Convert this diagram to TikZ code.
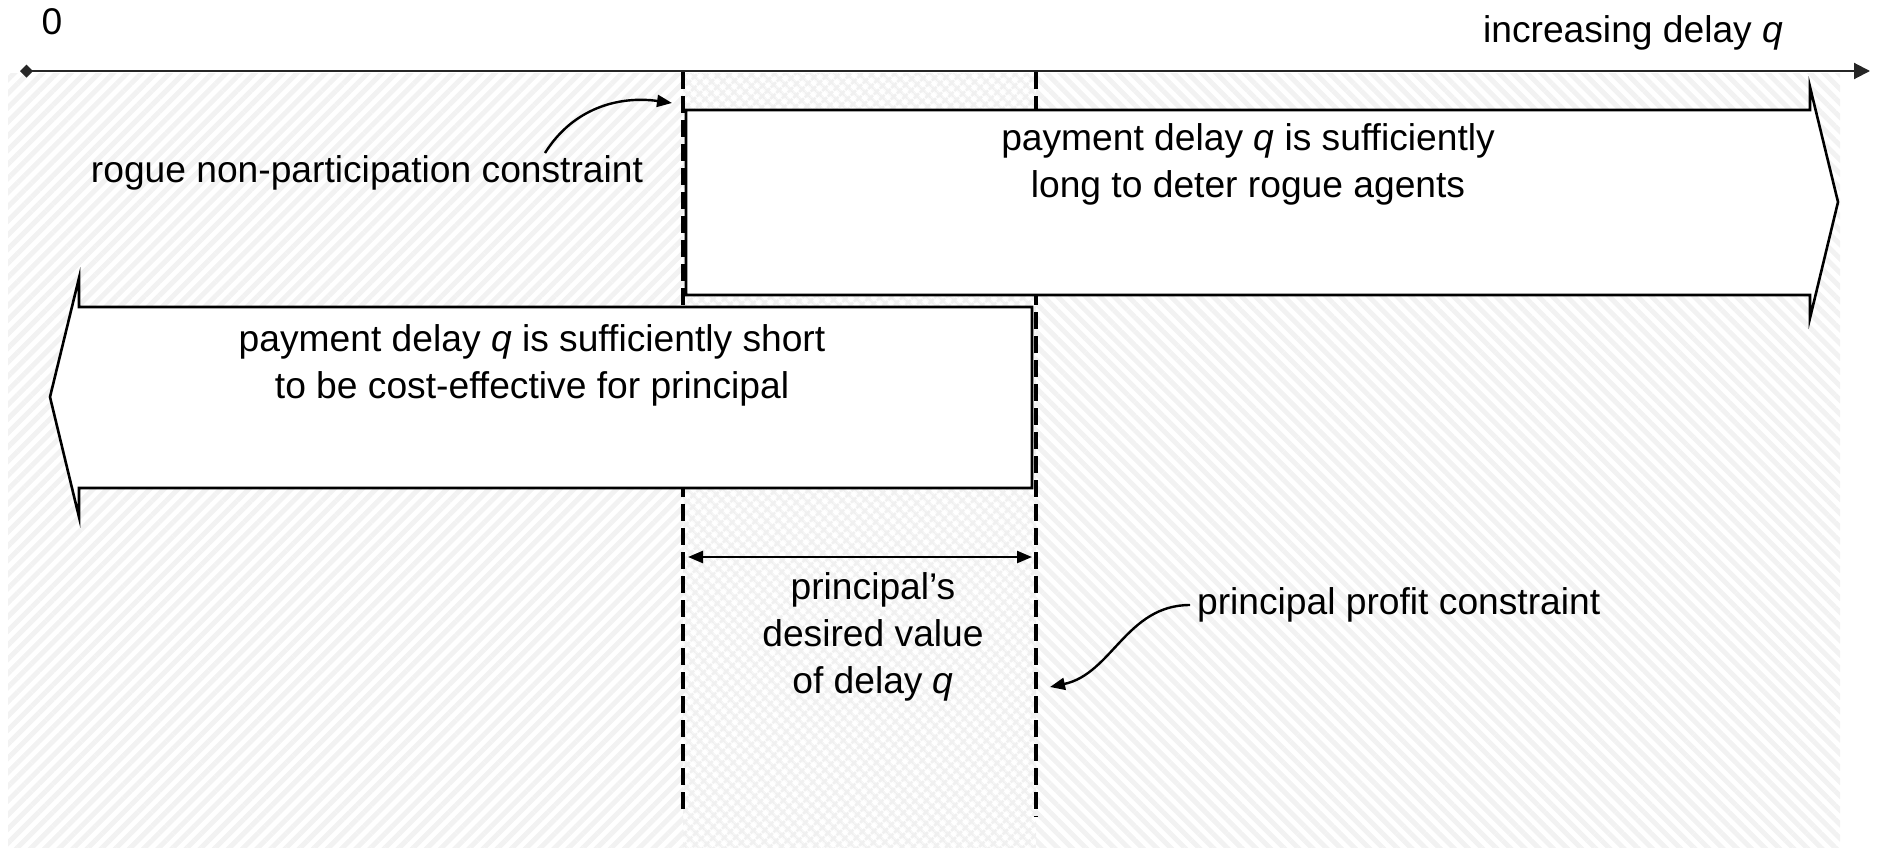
\documentclass[tikz,border=0pt]{standalone}
\usepackage{fontspec}
\setmainfont{Liberation Sans}
\usetikzlibrary{arrows.meta,patterns.meta}
\begin{document}
\begin{tikzpicture}[x=0.5pt, y=0.5pt, font=\fontsize{18.6}{23.5}\selectfont, line join=miter, >={Triangle[length=7.5pt,width=6pt]}]
	\useasboundingbox (0,0) rectangle (1879,-851);
	% shaded regions
	\fill[pattern={Lines[angle=45,distance=5pt,line width=2.5pt]}, pattern color=gray!10] (8,-73) rectangle (683,-847);
	\fill[pattern={Hatch[angle=45,distance=4pt,line width=1.5pt]}, pattern color=gray!12] (683,-73) rectangle (1036,-847);
	\fill[pattern={Lines[angle=-45,distance=5pt,line width=2.5pt]}, pattern color=gray!10] (1036,-73) rectangle (1840,-847);
	% delay axis
	\draw[line width=1pt, black!85, {Diamond[length=6.5pt,width=6.5pt]}-{Triangle[length=8pt,width=8pt]}] (20,-71) coordinate(O) -- (1870,-71) coordinate(Q);
	\node (zero) at (52,-22) {0};
	\node[anchor=east] (incdelay) at (1790,-33) {increasing delay \textit{q}};
	% constraints
	\coordinate (qlo) at (683,-72);
	\coordinate (qhi) at (1036,-72);
	\draw[line width=1.6pt, dash pattern=on 8.5pt off 3.5pt] (qlo) -- (683,-815) coordinate(qlo_1);
	\draw[line width=1.6pt, dash pattern=on 8.5pt off 3.5pt] (qhi) -- (1036,-817) coordinate(qhi_1);
	% block arrows
	\draw[line width=1.3pt, fill=white] (686,-110) -- (1810,-110) -- (1810,-87) -- (1838,-202) -- (1810,-318) -- (1810,-295) -- (686,-295) -- cycle;
	\node[align=center] (deter) at (1248,-164) {payment delay \textit{q} is sufficiently\\long to deter rogue agents};
	\draw[line width=1.3pt, fill=white] (1032,-307) -- (79,-307) -- (79,-278) -- (50,-397) -- (79,-517) -- (79,-488) -- (1032,-488) -- cycle;
	\node[align=center] (costeff) at (532,-365) {payment delay \textit{q} is sufficiently short\\to be cost-effective for principal};
	\draw[<->, line width=1.2pt] (688,-557) coordinate(A) -- (1032,-557) coordinate(B);
	\node[align=center] (desired) at (873,-637) {principal’s\\desired value\\of delay \textit{q}};
	\node (rogue) at (367,-173) {rogue non-participation constraint};
	\draw[->, line width=1.2pt] (545,-153) coordinate(R) to[out=58,in=172] (672,-103) coordinate(R_1);
	\node[anchor=west] (profit) at (1190,-605) {principal profit constraint};
	\draw[->, line width=1.2pt] (profit.west) to[out=180,in=12] (1050,-687) coordinate(P_1);
\end{tikzpicture}
\end{document}
